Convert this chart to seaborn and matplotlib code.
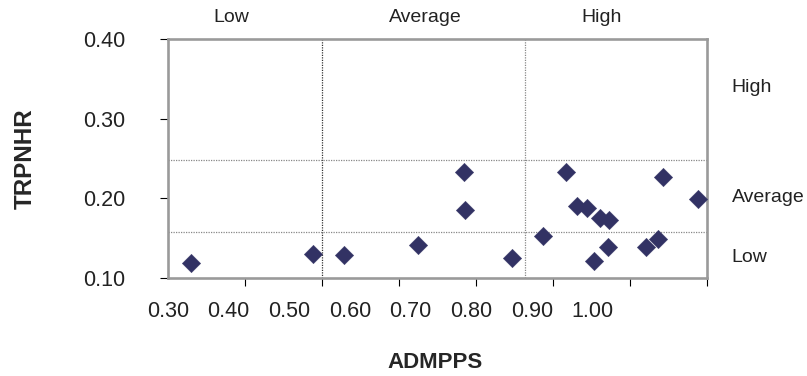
import numpy as np
import pandas as pd
import seaborn as sns
import matplotlib
matplotlib.use("Agg")
import matplotlib.pyplot as plt
from matplotlib.ticker import FormatStrFormatter

# values
admpps = [0.338, 0.539, 0.590, 0.713, 0.788, 0.790, 0.868, 0.918, 0.956, 0.974,
          0.991, 1.012, 1.027, 1.025, 1.002, 1.088, 1.108, 1.116, 1.174]
trpnhr = [0.119, 0.130, 0.129, 0.141, 0.233, 0.185, 0.125, 0.152, 0.233, 0.190,
          0.187, 0.175, 0.173, 0.138, 0.121, 0.139, 0.149, 0.227, 0.199]

# band cut-offs (dotted lines)
admpps_cuts = [0.554, 0.888]
trpnhr_cuts = [0.157, 0.248]

x_ticklabels = [0.30, 0.40, 0.50, 0.60, 0.70, 0.80, 0.90, 1.00]
y_ticks = [0.10, 0.20, 0.30, 0.40]
band_names = ["Low", "Average", "High"]

df = pd.DataFrame({"ADMPPS": admpps, "TRPNHR": trpnhr})

sns.set_style("white")
plt.rcParams["font.family"] = ["Liberation Sans", "DejaVu Sans"]
plt.rcParams["text.color"] = "#222222"

fig = plt.figure(figsize=(8.07, 3.76), dpi=100)
ax = fig.add_axes([0.2082, 0.2614, 0.6679, 0.6349])

# reference lines
ax.axvline(admpps_cuts[0], color="#333333", ls=(0, (1, 1)), lw=0.9, zorder=1)
ax.axvline(admpps_cuts[1], color="#888888", ls=(0, (1, 1)), lw=0.9, zorder=1)
for c in trpnhr_cuts:
    ax.axhline(c, color="#888888", ls=(0, (1, 1)), lw=0.9, zorder=1)

sns.scatterplot(data=df, x="ADMPPS", y="TRPNHR", marker="D", s=88,
                color="#323264", edgecolor="#323264", linewidth=0.3,
                ax=ax, zorder=3)

x_max = 0.30 + 539 / 606.4
ax.set_xlim(0.30, x_max)
ax.set_ylim(0.10, 0.40)

ax.set_xticks(x_ticklabels)
ax.xaxis.set_major_formatter(FormatStrFormatter("%.2f"))
ax.set_xticks(np.linspace(0.30, x_max, 8), minor=True)
ax.set_yticks(y_ticks)
ax.yaxis.set_major_formatter(FormatStrFormatter("%.2f"))

ax.tick_params(axis="x", which="major", bottom=True, length=0, pad=17,
               labelsize=15.5, labelcolor="#222222")
ax.tick_params(axis="x", which="minor", bottom=True, length=6, width=0.8,
               color="black", direction="out")
ax.tick_params(axis="y", which="major", left=True, length=6, width=0.8,
               color="black", direction="out", pad=25, labelsize=15.5,
               labelcolor="#222222")

for s in ax.spines.values():
    s.set_color("#9a9a9a")
    s.set_linewidth(1.9)

ax.set_xlabel("ADMPPS", fontsize=16, fontweight="bold")
ax.set_ylabel("TRPNHR", fontsize=17.5, fontweight="bold")
ax.xaxis.set_label_coords(0.4954, -0.31)
ax.yaxis.set_label_coords(-0.2440, 0.5)

# band names along the top (ADMPPS) and right side (TRPNHR)
W, H = 807, 376
for name, px in zip(band_names, [231.5, 425, 602]):
    fig.text(px / W, 1 - 17 / H, name, ha="center", va="center", fontsize=14)
for name, py in zip(band_names, [257.7, 198, 88]):
    fig.text(731.7 / W, 1 - py / H, name, ha="left", va="center", fontsize=14)

fig.savefig("out.png", dpi=100)
